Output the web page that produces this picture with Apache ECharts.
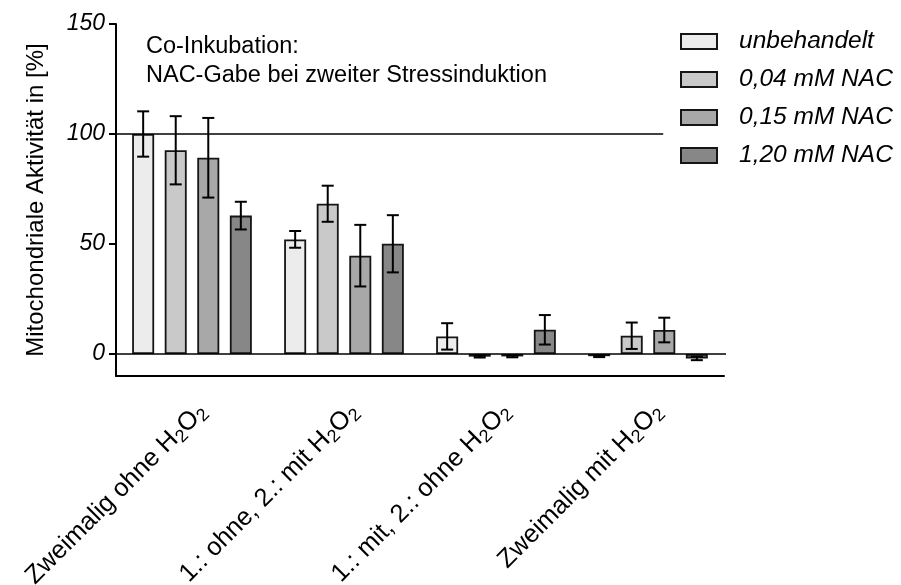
<!DOCTYPE html>
<html>
<head>
<meta charset="utf-8">
<script src="https://cdn.jsdelivr.net/npm/echarts@6/dist/echarts.min.js"></script>
<style>
  html, body { margin: 0; padding: 0; background: #fff; }
  #chart { width: 901px; height: 585px; }
</style>
</head>
<body>
<div id="chart"></div>
<script>
// Treatment groups (H2O2 written plainly, subscripts added by the label formatter)
const categories = ['Zweimalig ohne H2O2', '1.: ohne, 2.: mit H2O2', '1.: mit, 2.: ohne H2O2', 'Zweimalig mit H2O2'];

// Series names
const seriesNames = ['unbehandelt', '0,04 mM NAC', '0,15 mM NAC', '1,20 mM NAC'];

// Mean mitochondrial activity [%] per group
const unbehandelt = [100, 52.1, 8.0, -1.0];
const nac004 = [92.6, 68.3, -1.2, 8.3];
const nac015 = [89.2, 44.7, -1.1, 10.9];
const nac120 = [62.9, 50.1, 11.0, -2.0];

// Standard deviations
const unbehandeltSd = [10.3, 3.8, 6.0, 0.4];
const nac004Sd = [15.5, 8.2, 0.4, 6.0];
const nac015Sd = [18.1, 14.0, 0.4, 5.6];
const nac120Sd = [6.3, 13.0, 6.7, 0.8];

// Y axis ticks and reference levels
const yTickValues = [0, 50, 100, 150];
const controlLevel = 100;
const baselineLevel = 0;

const FONT = '"Liberation Sans", Arial, sans-serif';
const BAR_WIDTH = 22;
const BAR_GAP = 0.48;
const BAR_STEP = BAR_WIDTH * (1 + BAR_GAP);
const fills = ['#ececec', '#c9c9c9', '#a8a8a8', '#878787'];
const edge = '#151515';

const means = [unbehandelt, nac004, nac015, nac120];
const sds = [unbehandeltSd, nac004Sd, nac015Sd, nac120Sd];

function categoryLabel(value) {
  const parts = value.split('H2O2');
  let out = parts[0] ? '{t|' + parts[0] + '}' : '';
  if (parts.length > 1) out += '{t|H}{s|2}{t|O}{s|2}';
  return out;
}

const barSeries = means.map((vals, k) => ({
  name: seriesNames[k],
  type: 'bar',
  xAxisIndex: 0,
  yAxisIndex: 0,
  barWidth: BAR_WIDTH,
  barGap: (BAR_GAP * 100) + '%',
  data: vals,
  itemStyle: { color: fills[k], borderColor: edge, borderWidth: 1.8 },
  z: 2,
  silent: true
}));

const errorSeries = means.map((vals, k) => ({
  type: 'custom',
  xAxisIndex: 0,
  yAxisIndex: 0,
  z: 4,
  silent: true,
  data: vals.map((v, i) => [i, v, sds[k][i]]),
  renderItem(params, api) {
    const i = api.value(0), v = api.value(1), sd = api.value(2);
    const c = api.coord([i, v]);
    const hi = api.coord([i, v + sd]);
    const lo = api.coord([i, v - sd]);
    const x = c[0] + (k - 1.5) * BAR_STEP;
    const half = 6;
    const st = { stroke: '#000', lineWidth: 2 };
    return {
      type: 'group',
      children: [
        { type: 'line', shape: { x1: x, y1: hi[1], x2: x, y2: lo[1] }, style: st },
        { type: 'line', shape: { x1: x - half, y1: hi[1], x2: x + half, y2: hi[1] }, style: st },
        { type: 'line', shape: { x1: x - half, y1: lo[1], x2: x + half, y2: lo[1] }, style: st }
      ]
    };
  }
}));

// Horizontal reference lines on a hidden value axis sharing the grid
const lineSeries = [
  {
    type: 'line', xAxisIndex: 1, yAxisIndex: 0, clip: false, silent: true, symbol: 'none', z: 3,
    data: [[-0.5, controlLevel], [3.1, controlLevel]],
    lineStyle: { color: '#000', width: 1.5 }
  },
  {
    type: 'line', xAxisIndex: 1, yAxisIndex: 0, clip: false, silent: true, symbol: 'none', z: 3,
    data: [[-0.5, baselineLevel], [3.54, baselineLevel]],
    lineStyle: { color: '#000', width: 1.5 }
  }
];

const chart = echarts.init(document.getElementById('chart'), null, { renderer: 'canvas' });
chart.setOption({
  backgroundColor: '#fff',
  animation: false,
  textStyle: { fontFamily: FONT, color: '#000' },
  title: {
    text: 'Co-Inkubation:\nNAC-Gabe bei zweiter Stressinduktion',
    left: 146,
    top: 32,
    padding: 0,
    textStyle: { fontFamily: FONT, fontSize: 23.5, fontWeight: 'normal', color: '#000', lineHeight: 29 }
  },
  legend: {
    orient: 'vertical',
    left: 680,
    top: 29,
    padding: 0,
    itemWidth: 36,
    itemHeight: 15,
    itemGap: 13,
    icon: 'rect',
    data: seriesNames,
    itemStyle: { borderColor: edge, borderWidth: 2 },
    textStyle: { fontFamily: FONT, fontSize: 24.5, fontStyle: 'italic', color: '#000', padding: [0, 0, 0, 17] }
  },
  grid: { left: 116, right: 177, top: 24, bottom: 209, outerBoundsMode: 'none' },
  xAxis: [
    {
      type: 'category',
      data: categories,
      axisLine: { onZero: false, lineStyle: { color: '#000', width: 2 } },
      axisTick: { alignWithLabel: true, length: 8, lineStyle: { color: '#000', width: 2 } },
      axisLabel: {
        interval: 0,
        rotate: 45,
        margin: 21,
        verticalAlign: 'top',
        formatter: categoryLabel,
        rich: {
          t: { fontFamily: FONT, fontSize: 25.5, color: '#000' },
          s: { fontFamily: FONT, fontSize: 18, color: '#000', padding: [12, 0, 0, 0] }
        }
      },
      splitLine: { show: false }
    },
    { type: 'value', min: -0.5, max: 3.5, show: false }
  ],
  yAxis: {
    type: 'value',
    min: -10,
    max: 150,
    name: 'Mitochondriale Aktivität in [%]',
    nameLocation: 'middle',
    nameGap: 68,
    nameTextStyle: { fontFamily: FONT, fontSize: 24, color: '#000' },
    axisLine: { show: true, onZero: false, lineStyle: { color: '#000', width: 2 } },
    axisTick: { show: true, length: 7, customValues: yTickValues, lineStyle: { color: '#000', width: 2 } },
    axisLabel: { customValues: yTickValues, fontFamily: FONT, fontSize: 23, fontStyle: 'italic', color: '#000', margin: 11 },
    splitLine: { show: false }
  },
  series: [...barSeries, ...errorSeries, ...lineSeries]
});
</script>
</body>
</html>
